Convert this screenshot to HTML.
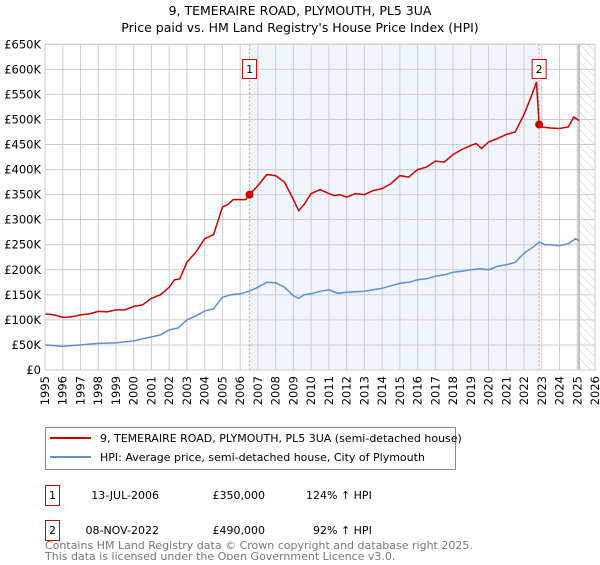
<!DOCTYPE html>
<html><head><meta charset="utf-8"><style>
body{margin:0;background:#fff;width:600px;height:560px;overflow:hidden;font-family:"Liberation Sans","DejaVu Sans",sans-serif}
svg text{font-family:"DejaVu Sans","Liberation Sans",sans-serif}
</style></head><body>
<svg id="chart" width="600" height="560" viewBox="0 0 600 560" xmlns="http://www.w3.org/2000/svg">
<text x="300" y="15" text-anchor="middle" font-size="12.5" fill="#000">9, TEMERAIRE ROAD, PLYMOUTH, PL5 3UA</text>
<text x="300" y="32" text-anchor="middle" font-size="12.5" fill="#000">Price paid vs. HM Land Registry's House Price Index (HPI)</text>
<defs><pattern id="hatch" width="6" height="6" patternUnits="userSpaceOnUse" patternTransform="rotate(-45)"><line x1="0" y1="0" x2="0" y2="6" stroke="#ccc" stroke-width="1"/></pattern></defs>
<g id="grid"></g>
<g id="marks"></g>
<g id="legend">
<rect x="45.5" y="427.5" width="410" height="42" fill="#fff" stroke="#888"/>
<line x1="50" y1="438" x2="91" y2="438" stroke="#cc0000" stroke-width="2"/>
<text x="100" y="442" font-size="11">9, TEMERAIRE ROAD, PLYMOUTH, PL5 3UA (semi-detached house)</text>
<line x1="50" y1="457" x2="91" y2="457" stroke="#5b8fd6" stroke-width="2"/>
<text x="100" y="461" font-size="11">HPI: Average price, semi-detached house, City of Plymouth</text>
</g>
<g font-size="11">
<rect x="45.5" y="485.5" width="14" height="20" fill="#fff" stroke="#cc0000"/>
<text x="52.5" y="499" text-anchor="middle">1</text>
<text x="159" y="499" text-anchor="end">13-JUL-2006</text>
<text x="265" y="499" text-anchor="end">£350,000</text>
<text x="306" y="499">124% ↑ HPI</text>
</g>
<g font-size="11">
<rect x="45.5" y="520.5" width="14" height="20" fill="#fff" stroke="#cc0000"/>
<text x="52.5" y="534" text-anchor="middle">2</text>
<text x="159" y="534" text-anchor="end">08-NOV-2022</text>
<text x="265" y="534" text-anchor="end">£490,000</text>
<text x="313" y="534">92% ↑ HPI</text>
</g>
<text x="45" y="549" font-size="11" fill="#777">Contains HM Land Registry data © Crown copyright and database right 2025.</text>
<text x="45" y="560" font-size="11" fill="#777">This data is licensed under the Open Government Licence v3.0.</text>
</svg>
<script>
const redYears=[1995,1995.5,1996,1996.5,1997,1997.5,1998,1998.5,1999,1999.5,2000,2000.5,2001,2001.5,2002,2002.3,2002.6,2003,2003.5,2004,2004.5,2005,2005.3,2005.6,2006,2006.3,2006.53,2007,2007.5,2008,2008.5,2009,2009.3,2009.6,2010,2010.5,2011,2011.3,2011.6,2012,2012.5,2013,2013.5,2014,2014.5,2015,2015.5,2016,2016.5,2017,2017.5,2018,2018.5,2019,2019.3,2019.6,2020,2020.5,2021,2021.5,2022,2022.4,2022.7,2022.85,2023,2023.5,2024,2024.5,2024.8,2025.1];
const redValues=[112,110,105,106,110,112,117,116,120,120,127,130,143,150,165,180,182,215,235,262,270,325,330,340,340,340,350,368,390,388,375,340,318,330,352,360,352,348,350,345,352,350,358,362,372,388,385,400,405,417,415,430,440,448,452,442,455,462,470,475,510,545,575,490,485,483,482,485,505,498];
const hpiYears=[1995,1996,1997,1998,1999,2000,2001,2001.5,2002,2002.5,2003,2003.5,2004,2004.5,2005,2005.5,2006,2006.5,2007,2007.5,2008,2008.5,2009,2009.3,2009.6,2010,2010.5,2011,2011.5,2012,2012.5,2013,2013.5,2014,2014.5,2015,2015.5,2016,2016.5,2017,2017.5,2018,2018.5,2019,2019.5,2020,2020.5,2021,2021.5,2022,2022.5,2022.85,2023.2,2023.5,2024,2024.5,2024.9,2025.1];
const hpiValues=[50,47,50,53,54,58,66,70,80,84,100,108,118,122,145,150,152,157,165,175,174,165,148,143,150,152,157,160,153,155,156,157,160,163,168,173,175,180,182,187,190,195,197,200,202,200,207,210,215,233,245,255,250,250,248,252,262,258];
const saleYears=[2006.53,2022.85];
const saleValues=[350,490];
const saleLabels=["1","2"];
const yTicks=[0,50,100,150,200,250,300,350,400,450,500,550,600,650];
const yTickLabels=["£0","£50K","£100K","£150K","£200K","£250K","£300K","£350K","£400K","£450K","£500K","£550K","£600K","£650K"];
const xTicks=[1995,1996,1997,1998,1999,2000,2001,2002,2003,2004,2005,2006,2007,2008,2009,2010,2011,2012,2013,2014,2015,2016,2017,2018,2019,2020,2021,2022,2023,2024,2025,2026];

const L=45,R=595,T=44.3,B=370;
const x=v=>L+(v-1995)/31*(R-L);
const y=v=>B-v/650*(B-T);
const NS="http://www.w3.org/2000/svg";
function mk(tag,attrs,parent){const e=document.createElementNS(NS,tag);for(const k in attrs)e.setAttribute(k,attrs[k]);parent.appendChild(e);return e;}
const grid=document.getElementById('grid'),marks=document.getElementById('marks');
let r=mk('rect',{x:x(saleYears[0]),y:T,width:x(saleYears[1])-x(saleYears[0]),height:B-T,fill:'#eef2fd',opacity:0.8},grid);


r=mk('rect',{x:x(2025.1),y:T,width:R-x(2025.1),height:B-T,fill:'url(#hatch)'},grid);


yTicks.forEach((t,i)=>{
 mk('line',{x1:L,x2:R,y1:y(t),y2:y(t),stroke:'#ccc','stroke-width':1},grid);
 const tx=mk('text',{x:L-4,y:y(t)+4,'text-anchor':'end','font-size':11.5},grid);
 tx.textContent=yTickLabels[i];
 
 
});
xTicks.forEach(t=>{
 mk('line',{x1:x(t),x2:x(t),y1:T,y2:B,stroke:'#ccc','stroke-width':1},grid);
 const tx=mk('text',{x:0,y:0,'text-anchor':'end','font-size':11.5,transform:`translate(${x(t)+4},${B+6}) rotate(-90)`},grid);
 tx.textContent=t;
 
 
});
let fl=mk('line',{x1:x(2025.1),x2:x(2025.1),y1:T,y2:B,stroke:'#888','stroke-width':1},grid);


saleYears.forEach((s,i)=>{
 const ln=mk('line',{x1:x(s),x2:x(s),y1:T,y2:B,stroke:'#f08080','stroke-dasharray':'2,2','stroke-width':1},marks);
 
 
});
const pts=(xs,vs)=>xs.map((v,i)=>x(v).toFixed(1)+','+y(vs[i]).toFixed(1)).join(' ');
let p=mk('polyline',{points:pts(hpiYears,hpiValues),fill:'none',stroke:'#5b8fd6','stroke-width':1.5},marks);


p=mk('polyline',{points:pts(redYears,redValues),fill:'none',stroke:'#cc0000','stroke-width':1.5},marks);


saleYears.forEach((s,i)=>{
 const c=mk('circle',{cx:x(s),cy:y(saleValues[i]),r:4,fill:'#cc0000'},marks);
 
 
 const g=mk('g',{},marks);
 
 
 mk('rect',{x:x(s)-7,y:59.5,width:14,height:19,fill:'#fff',stroke:'#cc0000'},g);
 const t=mk('text',{x:x(s),y:73,'text-anchor':'middle','font-size':11},g);
 t.textContent=saleLabels[i];
});
mk('rect',{x:L,y:T,width:R-L,height:B-T,fill:'none',stroke:'#ccc'},marks);
</script>
</body></html>
